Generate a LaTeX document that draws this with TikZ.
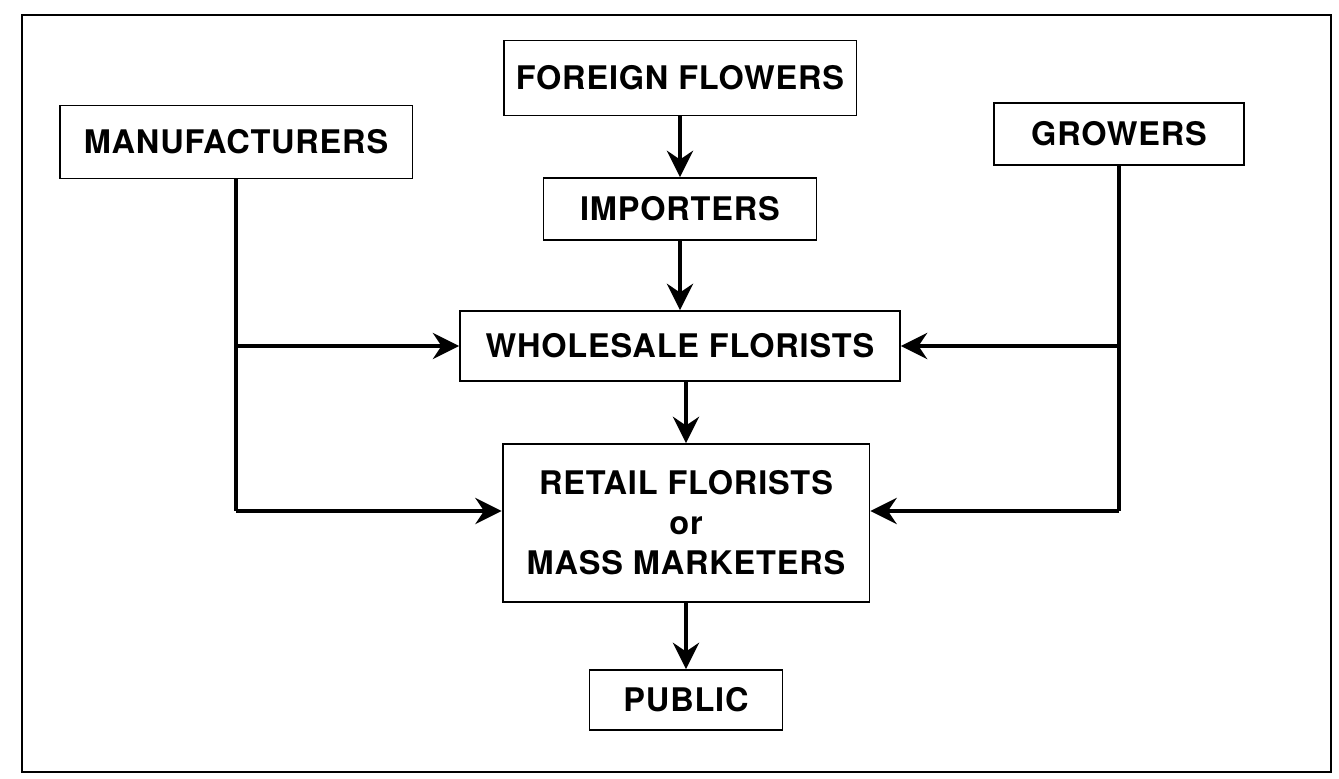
\documentclass[tikz,border=0pt]{standalone}
\usepackage{fontspec}
\setmainfont{TeX Gyre Heros}[LetterSpace=2.5]
\usetikzlibrary{arrows.meta,calc}
\tikzset{
  flowbox/.style={draw=black, line width=1.1pt, align=center, inner sep=0pt,
    font=\fontsize{18.5}{22.8}\selectfont\bfseries},
  flowarrow/.style={black, line width=1.8pt, -{Stealth[length=15pt,width=15pt,inset=5pt]}},
  feedline/.style={black, line width=1.8pt},
  frameline/.style={black, line width=1.1pt}
}

\begin{document}
\begin{tikzpicture}[x=0.02cm, y=-0.02cm]
  \useasboundingbox (0,0) rectangle (1339,778);
  \draw[frameline] (22,15) rectangle (1331,772);
  % sources
  \node[flowbox, minimum width=7.06cm, minimum height=1.46cm] (mfr) at (236,142) {MANUFACTURERS};
  \node[flowbox, minimum width=7.06cm, minimum height=1.5cm] (foreign) at (680,78) {FOREIGN FLOWERS};
  \node[flowbox, minimum width=5.0cm, minimum height=1.24cm] (growers) at (1119,134) {GROWERS};
  % chain
  \node[flowbox, minimum width=5.46cm, minimum height=1.24cm] (importers) at (680,209) {IMPORTERS};
  \node[flowbox, minimum width=8.8cm, minimum height=1.4cm] (whole) at (680,346) {WHOLESALE FLORISTS};
  \node[flowbox, minimum width=7.34cm, minimum height=3.16cm] (retail) at (686,523) {RETAIL FLORISTS\\or\\MASS MARKETERS};
  \node[flowbox, minimum width=3.86cm, minimum height=1.2cm] (public) at (686,700) {PUBLIC};
  % main flow
  \draw[flowarrow] (foreign.south) -- (importers.north);
  \draw[flowarrow] (importers.south) -- (whole.north);
  \draw[flowarrow] (whole.south -| retail.north) -- (retail.north);
  \draw[flowarrow] (retail.south) -- (public.north);
  % side feeds
  \coordinate (retailL) at ([yshift=0.24cm]retail.west);
  \coordinate (retailR) at ([yshift=0.24cm]retail.east);
  \draw[feedline] (mfr.south) -- (mfr.south |- retailL);
  \draw[flowarrow] (mfr.south |- whole.west) -- (whole.west);
  \draw[flowarrow] (mfr.south |- retailL) -- (retailL);
  \draw[feedline] (growers.south) -- (growers.south |- retailR);
  \draw[flowarrow] (growers.south |- whole.east) -- (whole.east);
  \draw[flowarrow] (growers.south |- retailR) -- (retailR);
\end{tikzpicture}
\end{document}
